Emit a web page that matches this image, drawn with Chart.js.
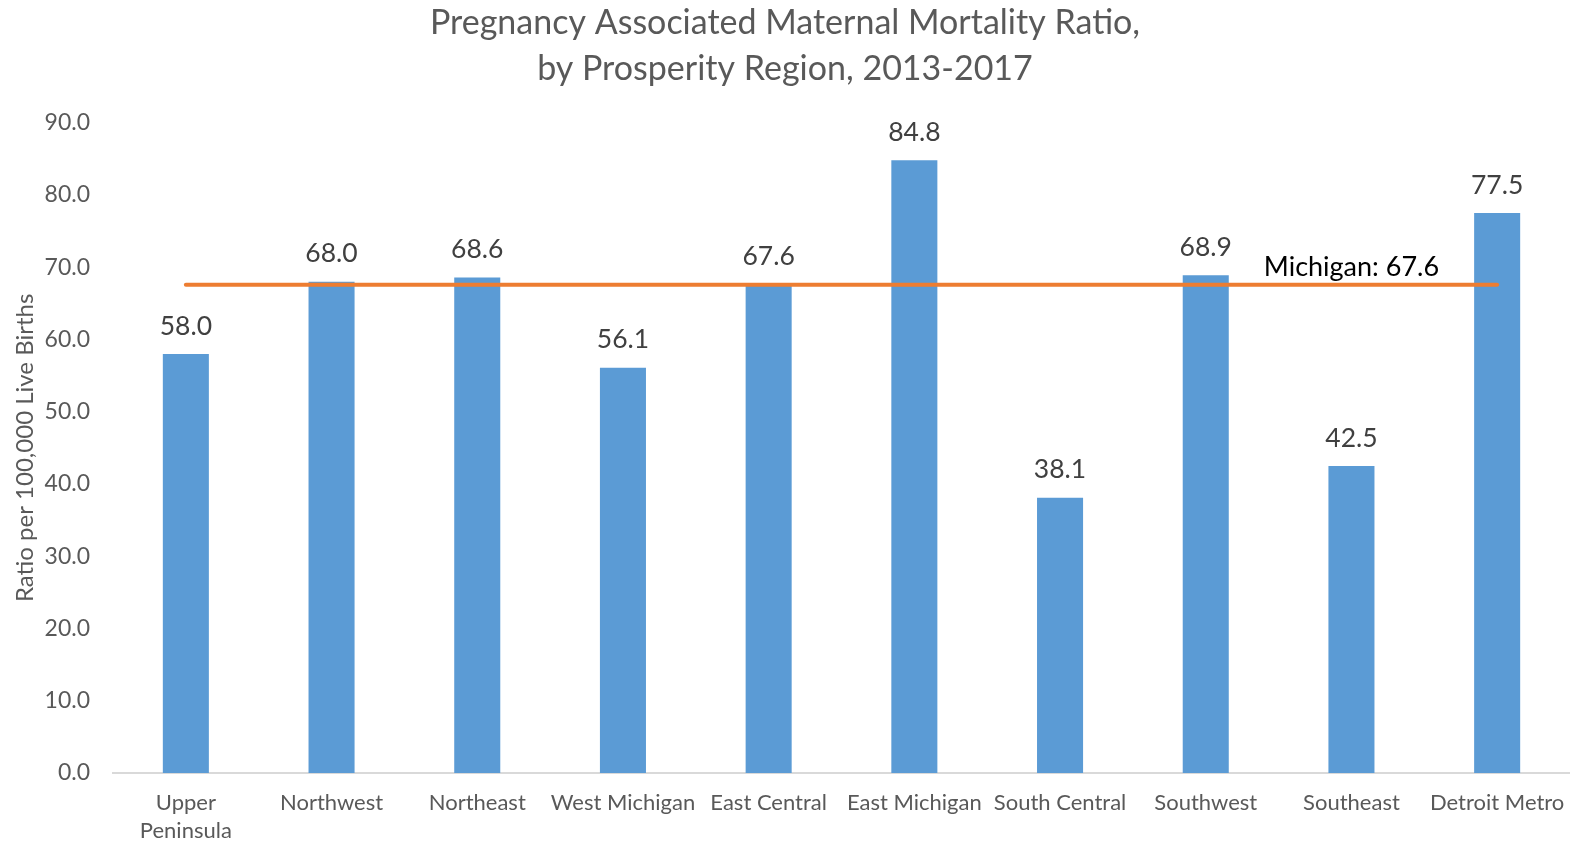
<!DOCTYPE html>
<html>
<head>
<meta charset="utf-8">
<script src="https://cdn.jsdelivr.net/npm/chart.js@4.4.1/dist/chart.umd.min.js"></script>
<style>
  html, body { margin: 0; padding: 0; background: #fff; }
  #wrap { width: 1570px; height: 844px; position: relative; }
</style>
</head>
<body>
<div id="wrap"><canvas id="mmrChart"></canvas></div>
<script>
const regions = [['Upper', 'Peninsula'], 'Northwest', 'Northeast', 'West Michigan', 'East Central',
  'East Michigan', 'South Central', 'Southwest', 'Southeast', 'Detroit Metro'];
const ratios = [58.0, 68.0, 68.6, 56.1, 67.6, 84.8, 38.1, 68.9, 42.5, 77.5];
const michiganRatio = 67.6;
const michiganLine = regions.map(() => michiganRatio);
const yTicks = [0, 10, 20, 30, 40, 50, 60, 70, 80, 90];

const FONT = 'Lato, "Open Sans", sans-serif';

// value labels above bars + the state average label
const labelPlugin = {
  id: 'labels',
  afterDatasetsDraw(chart) {
    const ctx = chart.ctx;
    const meta = chart.getDatasetMeta(0);
    ctx.save();
    ctx.font = '26.5px ' + FONT;
    ctx.fillStyle = '#404040';
    ctx.textAlign = 'center';
    ctx.textBaseline = 'middle';
    meta.data.forEach((bar, i) => {
      ctx.fillText(ratios[i].toFixed(1), bar.x, bar.y - 28);
    });
    const x = chart.scales.x.getPixelForValue(8);
    const y = chart.scales.y.getPixelForValue(michiganRatio);
    ctx.font = '27px ' + FONT;
    ctx.fillStyle = '#000';
    ctx.fillText('Michigan: ' + michiganRatio.toFixed(1), x, y - 17);
    ctx.restore();
  }
};

const ctx = document.getElementById('mmrChart').getContext('2d');
new Chart(ctx, {
  type: 'bar',
  data: {
    labels: regions,
    datasets: [{
      label: 'Ratio',
      data: ratios,
      backgroundColor: '#5B9BD5',
      barPercentage: 0.316,
      categoryPercentage: 1,
      order: 1
    }, {
      type: 'line',
      label: 'Michigan',
      data: michiganLine,
      borderColor: '#ED7D31',
      borderWidth: 4,
      borderCapStyle: 'round',
      pointRadius: 0,
      order: 0
    }]
  },
  options: {
    responsive: true,
    maintainAspectRatio: false,
    animation: false,
    layout: { padding: 0 },
    plugins: {
      legend: { display: false },
      tooltip: { enabled: false },
      title: {
        display: true,
        text: ['Pregnancy Associated Maternal Mortality Ratio,', 'by Prosperity Region, 2013-2017'],
        color: '#595959',
        font: { family: FONT, size: 34, weight: 'normal', lineHeight: 1.35 },
        padding: { top: 0, bottom: 31 }
      }
    },
    scales: {
      x: {
        grid: { display: false, drawTicks: false },
        border: { display: true, color: '#D9D9D9', width: 2 },
        ticks: {
          color: '#595959',
          font: { family: FONT, size: 22, lineHeight: 1.27 },
          padding: 16,
          maxRotation: 0,
          autoSkip: false
        },
        afterFit(scale) {
          scale.height = 71;
          // let the last label run off the edge, like the original
          scale.paddingLeft = 0;
          scale.paddingRight = 0;
        }
      },
      y: {
        min: 0,
        max: 90,
        afterBuildTicks(scale) { scale.ticks = yTicks.map(v => ({ value: v })); },
        grid: { display: false, drawTicks: false },
        border: { display: false },
        ticks: {
          color: '#595959',
          font: { family: FONT, size: 23 },
          padding: 23,
          callback: v => v.toFixed(1)
        },
        title: {
          display: true,
          text: 'Ratio per 100,000 Live Births',
          color: '#595959',
          font: { family: FONT, size: 24 },
          padding: { top: 11, bottom: 0 }
        },
        afterFit(scale) { scale.width = 113; }
      }
    }
  },
  plugins: [labelPlugin]
});
</script>
</body>
</html>
